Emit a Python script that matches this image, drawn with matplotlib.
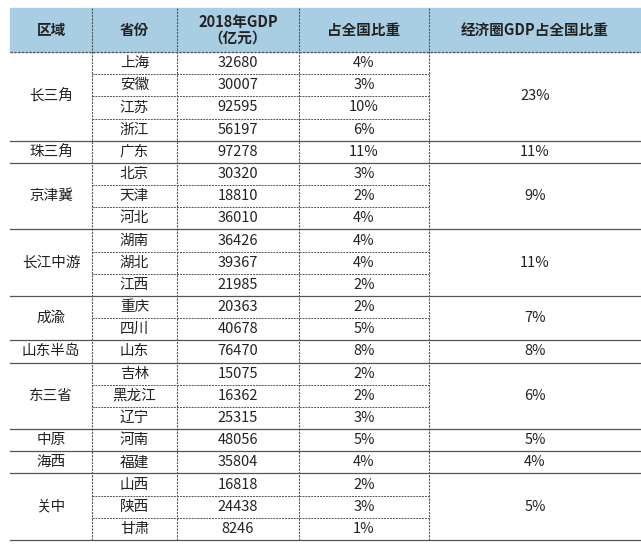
import matplotlib
matplotlib.use("Agg")
import matplotlib.pyplot as plt
from matplotlib.patches import Rectangle
from matplotlib import font_manager as fm

names = sorted({f.name for f in fm.fontManager.ttflist if "CJK" in f.name})
pref = [n for n in ["Noto Sans CJK SC", "Noto Sans CJK JP", "Noto Sans CJK TC", "Noto Sans CJK KR"] if n in names] + names
plt.rcParams["font.family"] = "sans-serif"
plt.rcParams["font.sans-serif"] = pref + ["DejaVu Sans"]

headers = ["区域", "省份", "2018年GDP\n（亿元）", "占全国比重", "经济圈GDP占全国比重"]
regions = ["长三角", "珠三角", "京津冀", "长江中游", "成渝", "山东半岛", "东三省", "中原", "海西", "关中"]
region_share = ["23%", "11%", "9%", "11%", "7%", "8%", "6%", "5%", "4%", "5%"]
provinces = [["上海", "安徽", "江苏", "浙江"], ["广东"], ["北京", "天津", "河北"],
             ["湖南", "湖北", "江西"], ["重庆", "四川"], ["山东"], ["吉林", "黑龙江", "辽宁"],
             ["河南"], ["福建"], ["山西", "陕西", "甘肃"]]
gdp = [[32680, 30007, 92595, 56197], [97278], [30320, 18810, 36010],
       [36426, 39367, 21985], [20363, 40678], [76470], [15075, 16362, 25315],
       [48056], [35804], [16818, 24438, 8246]]
share = [["4%", "3%", "10%", "6%"], ["11%"], ["3%", "2%", "4%"], ["4%", "4%", "2%"],
         ["2%", "5%"], ["8%"], ["2%", "2%", "3%"], ["5%"], ["4%"], ["2%", "3%", "1%"]]

W, H = 641, 545
fig = plt.figure(figsize=(W/100, H/100), dpi=100)
ax = fig.add_axes([0, 0, 1, 1])
ax.set_xlim(0, W); ax.set_ylim(H, 0); ax.axis("off")

xs = [10, 92, 177, 299, 429, 641]
top, hb, bot = 8, 52, 540
nrows = sum(len(p) for p in provinces)
rh = (bot - hb) / nrows
fs = 10.5
ax.add_patch(Rectangle((xs[0], top), xs[-1]-xs[0], hb-top, color="#a9cde2", zorder=0))
for i, h in enumerate(headers):
    ax.text((xs[i]+xs[i+1])/2, (top+hb)/2, h, ha="center", va="center",
            fontsize=fs, fontweight="bold", color="#222222", linespacing=1.0)
grey = "#555555"
ax.plot([xs[0], xs[-1]], [hb, hb], color=grey, lw=0.9, ls=(0, (2, 1)))
ax.plot([xs[0], xs[-1]], [bot, bot], color=grey, lw=0.9)
for x in xs[1:-1]:
    ax.plot([x, x], [top, bot], color=grey, lw=0.8, ls=(0, (2, 1)))
r = 0
for g, reg in enumerate(regions):
    n = len(provinces[g])
    y0 = hb + r*rh
    y1 = y0 + n*rh
    ax.text((xs[0]+xs[1])/2, (y0+y1)/2, reg, ha="center", va="center", fontsize=fs, color="#222222")
    ax.text((xs[4]+xs[5])/2, (y0+y1)/2, region_share[g], ha="center", va="center", fontsize=fs, color="#222222")
    for k in range(n):
        yc = y0 + (k+0.5)*rh
        ax.text((xs[1]+xs[2])/2, yc, provinces[g][k], ha="center", va="center", fontsize=fs, color="#222222")
        ax.text((xs[2]+xs[3])/2, yc, str(gdp[g][k]), ha="center", va="center", fontsize=fs, color="#222222")
        ax.text((xs[3]+xs[4])/2, yc, share[g][k], ha="center", va="center", fontsize=fs, color="#222222")
        if k > 0:
            yl = y0 + k*rh
            ax.plot([xs[1], xs[4]], [yl, yl], color=grey, lw=0.7, ls=(0, (2, 1)))
    if g < len(regions)-1:
        ax.plot([xs[0], xs[-1]], [y1, y1], color=grey, lw=0.9)
    r += n

fig.savefig("out.png", dpi=100)
